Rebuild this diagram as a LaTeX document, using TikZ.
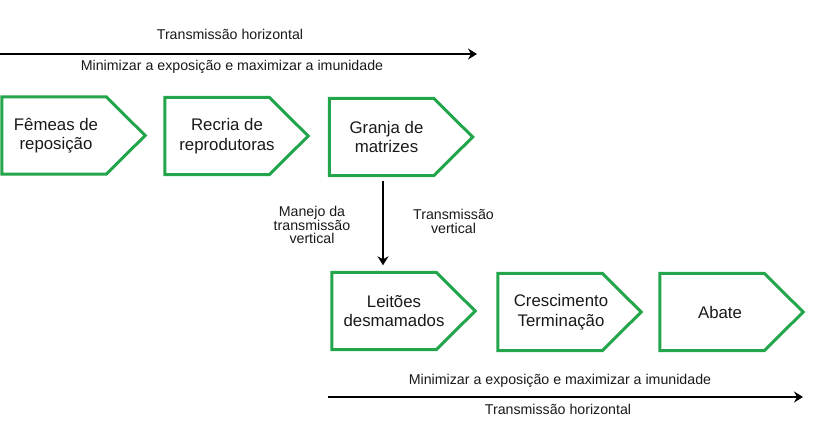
\documentclass[tikz,border=0pt]{standalone}
\usepackage{fontspec}
\setmainfont{Liberation Sans}
\usetikzlibrary{arrows.meta}
\definecolor{boxgreen}{RGB}{35,165,75}
\definecolor{txt}{RGB}{25,25,25}
\begin{document}
\begin{tikzpicture}[x=1pt,y=-1pt,
  rectpart/.style={draw=none,minimum width=104pt,minimum height=77pt,inner sep=0pt},
  boxtext/.style={text=txt,align=center,font=\fontsize{16.8}{19.5}\selectfont},
  lbl/.style={text=txt,align=center,font=\fontsize{14.2}{13.8}\selectfont},
  outline/.style={draw=boxgreen,line width=3pt,line join=miter},
  arr/.style={line width=2.2pt,-{Stealth[length=9pt,width=11pt,inset=3pt]}}]
\useasboundingbox (0,0) rectangle (820,423);
% rectangle parts of the chevron boxes
\node[rectpart] (b1) at (54,135.5) {};
\node[rectpart] (b2) at (217,136) {};
\node[rectpart] (b3) at (381.5,137) {};
\node[rectpart] (b4) at (384,311) {};
\node[rectpart] (b5) at (550,312) {};
\node[rectpart] (b6) at (712,312) {};
\foreach \b in {b1,b2,b3,b4,b5,b6}{
  \draw[outline] (\b.north west) -- (\b.north east) -- ([xshift=39pt]\b.east)
    -- (\b.south east) -- (\b.south west) -- cycle;
}
% texts
\node[boxtext] (t1) at ([xshift=2pt]b1.center) {Fêmeas de\\reposição};
\node[boxtext] (t2) at ([xshift=10pt]b2.center) {Recria de\\reprodutoras};
\node[boxtext] (t3) at ([xshift=5pt]b3.center) {Granja de\\matrizes};
\node[boxtext] (t4) at ([xshift=10pt]b4.center) {Leitões\\desmamados};
\node[boxtext] (t5) at ([xshift=11pt]b5.center) {Crescimento\\Terminação};
\node[boxtext] (t6) at ([xshift=8pt]b6.center) {Abate};
% vertical arrow
\draw[arr,shorten <=5pt,shorten >=7pt] ([xshift=1.5pt]b3.south) -- ([xshift=1.5pt]b3.south |- b4.north);
\node[lbl] (mv) at (312,225) {Manejo da\\transmissão\\vertical};
\node[lbl] (tv) at (453.5,221.5) {Transmissão\\vertical};
% top horizontal arrow
\coordinate (ta) at (0,54);
\coordinate (tb) at (477,54);
\draw[arr] (ta) -- (tb);
\node[lbl] (th) at (230,34) {Transmissão horizontal};
\node[lbl] (tm) at (232,67) {Minimizar a exposição e maximizar a imunidade};
% bottom horizontal arrow
\coordinate (ba) at (328,397);
\coordinate (bb) at (803,397);
\draw[arr] (ba) -- (bb);
\node[lbl] (bm) at (560,381) {Minimizar a exposição e maximizar a imunidade};
\node[lbl] (bh) at (558,409) {Transmissão horizontal};
\end{tikzpicture}
\end{document}
